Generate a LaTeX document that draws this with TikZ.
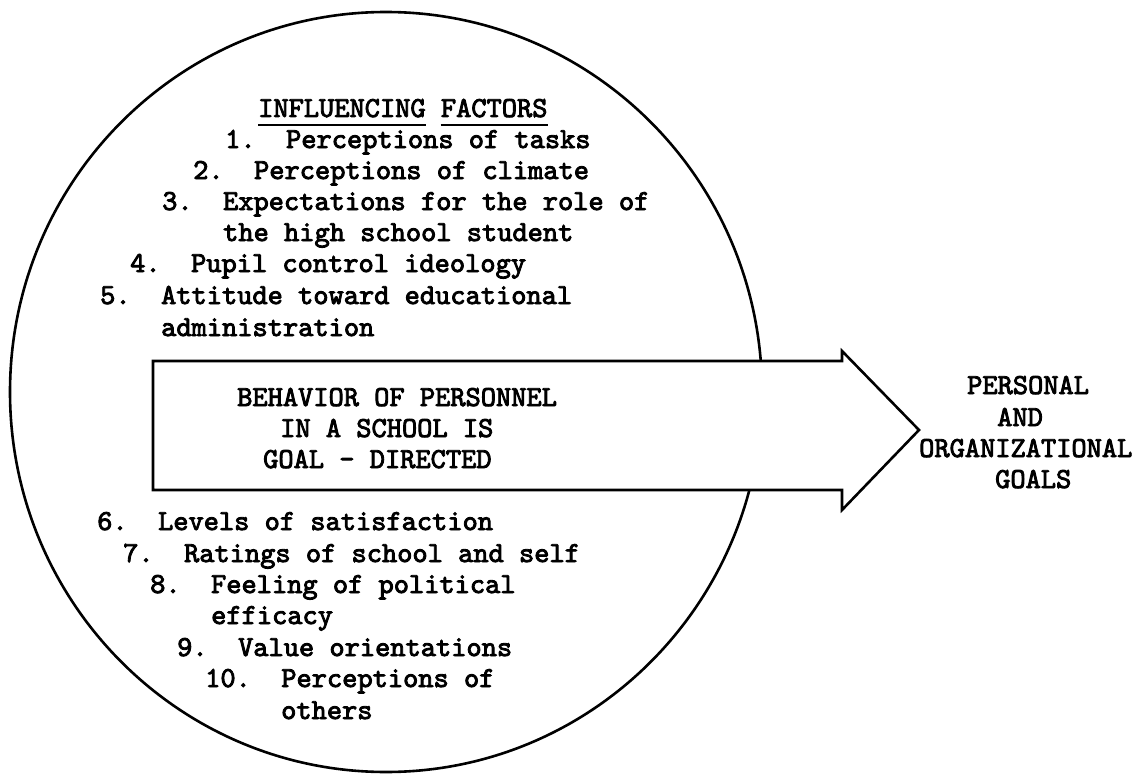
\documentclass[tikz,border=0pt]{standalone}
\usepackage{fontspec}
\newfontfamily\tw{lmmono10-regular}[Extension=.otf,FakeBold=3]
\begin{document}
\begin{tikzpicture}[x=1pt,y=-1pt,
  lbl/.style={anchor=base west,inner sep=0pt,font=\tw\fontsize{29}{31}\selectfont\frenchspacing},
  outline/.style={line width=2.6pt},
  uline/.style={line width=2pt}]
\useasboundingbox (0,0) rectangle (1133,776);
% big circle
\draw[outline] (386,392) ellipse [x radius=376, y radius=380];
% block arrow
\coordinate (a1) at (153,361);
\coordinate (a2) at (842,361);
\coordinate (a3) at (842,351);
\coordinate (tip) at (919,430);
\coordinate (a5) at (842,510);
\coordinate (a6) at (842,490);
\coordinate (a7) at (153,490);
\draw[outline,fill=white,line join=miter] (a1) -- (a2) -- (a3) -- (tip) -- (a5) -- (a6) -- (a7) -- cycle;
% heading
\node[lbl] (infa) at (258,117) {INFLUENCING};
\node[lbl] (infb) at (440.7,117) {FACTORS};
\draw[uline] ([yshift=-8pt]infa.base west) -- ([yshift=-8pt]infa.base east);
\draw[uline] ([yshift=-8pt]infb.base west) -- ([yshift=-8pt]infb.base east);
% upper factors
\node[lbl] (f1) at (225,148) {1.\ \ Perceptions of tasks};
\node[lbl] (f2) at (193,179) {2.\ \ Perceptions of climate};
\node[lbl] (f3) at (162,210) {3.\ \ Expectations for the role of};
\node[lbl] (f3b) at (223,241) {the high school student};
\node[lbl] (f4) at (130,272) {4.\ \ Pupil control ideology};
\node[lbl] (f5) at (100,304) {5.\ \ Attitude toward educational};
\node[lbl] (f5b) at (161,336) {administration};
% arrow text
\node[lbl] (b1) at (237,406) {BEHAVIOR OF PERSONNEL};
\node[lbl] (b2) at (280,437) {IN A SCHOOL IS};
\node[lbl] (b3) at (263,468) {GOAL - DIRECTED};
% goals
\node[lbl] (g1) at (967,394) {PERSONAL};
\node[lbl] (g2) at (997,426) {AND};
\node[lbl] (g3) at (919,457) {ORGANIZATIONAL};
\node[lbl] (g4) at (995,488) {GOALS};
% lower factors
\node[lbl] (f6) at (97,530) {6.\ \ Levels of satisfaction};
\node[lbl] (f7) at (123,562) {7.\ \ Ratings of school and self};
\node[lbl] (f8) at (150,593) {8.\ \ Feeling of political};
\node[lbl] (f8b) at (211,624) {efficacy};
\node[lbl] (f9) at (177,656) {9.\ \ Value orientations};
\node[lbl] (f10) at (205,687) {10.\ \ Perceptions of};
\node[lbl] (f10b) at (281,719) {others};
\end{tikzpicture}
\end{document}
